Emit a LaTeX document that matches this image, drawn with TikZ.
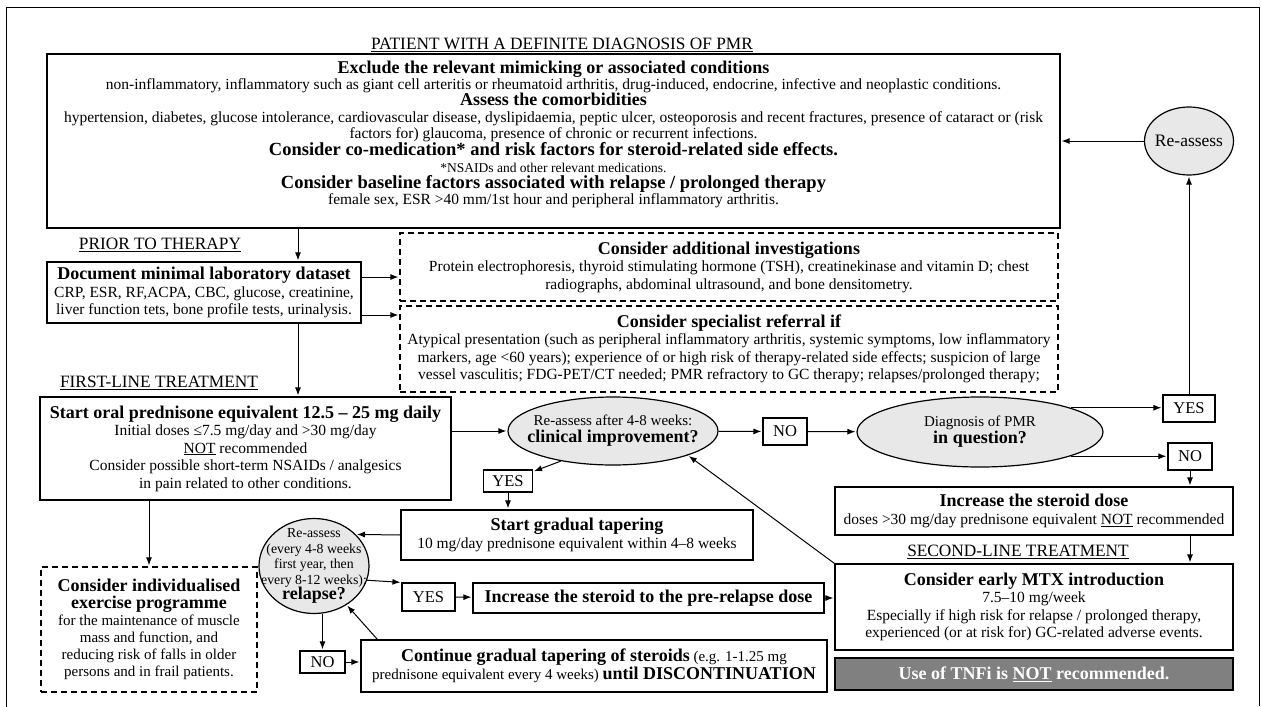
\documentclass[tikz,border=0pt]{standalone}
\usepackage{fontspec}
\setmainfont{Liberation Serif}
\usepackage{tikz}
\usetikzlibrary{arrows.meta,shapes,calc}

\newcommand{\hd}[1]{{\fontsize{18}{19}\selectfont\bfseries #1}}
\newcommand{\hdl}[1]{{\fontsize{18.5}{19}\selectfont\bfseries #1}}

\begin{document}
\begin{tikzpicture}[x=1pt,y=-1pt,shorten >=1pt,>={Latex[length=8pt,width=6pt]},line width=1pt]
	\tikzstyle{box}=[draw,rectangle,line width=1.2pt,align=center,inner sep=2pt,font=\fontsize{15.5}{17.5}\selectfont]
	\tikzstyle{dbox}=[box,dash pattern=on 6pt off 4pt]
	\tikzstyle{oval}=[draw,ellipse,line width=1.2pt,align=center,inner xsep=-30pt,inner ysep=-12pt,fill={rgb:black,1;white,10},font=\fontsize{15}{17}\selectfont]
	\tikzstyle{tag}=[draw,rectangle,line width=1.2pt,inner sep=0pt,minimum height=27pt,font=\fontsize{16.5}{17}\selectfont]
	\tikzstyle{lbl}=[font=\fontsize{17.3}{18}\selectfont]
	
	\useasboundingbox (0,0) rectangle (1262,707);
	\draw[line width=0.8pt] (6,707) -- (6,7) -- (1259,7) -- (1259,707);
	
	\node[lbl](title) at (562,45) {\underline{PATIENT WITH A DEFINITE DIAGNOSIS OF PMR}};
	\node[box,minimum width=1013pt,minimum height=174pt,font=\fontsize{15.5}{16.3}\selectfont](topbox) at (553.5,141) {\hd{Exclude the relevant mimicking or associated conditions}\\
		non-inflammatory, inflammatory such as giant cell arteritis or rheumatoid arthritis, drug-induced, endocrine, infective and neoplastic conditions.\\
		\hd{Assess the comorbidities}\\
		hypertension, diabetes, glucose intolerance, cardiovascular disease, dyslipidaemia, peptic ulcer, osteoporosis and recent fractures, presence of cataract or (risk\\
		factors for) glaucoma, presence of chronic or recurrent infections.\\
		\hdl{Consider co-medication* and risk factors for steroid-related side effects.}\\
		{\fontsize{13.5}{14}\selectfont *NSAIDs and other relevant medications.}\\
		\hdl{Consider baseline factors associated with relapse / prolonged therapy}\\
		female sex, ESR >40 mm/1st hour and peripheral inflammatory arthritis.\\ \mbox{}};
	\node[oval,minimum width=89pt,minimum height=68pt,font=\fontsize{17.5}{18}\selectfont](reassess) at (1189,141) {Re-assess};
	
	\node[lbl](prior) at (160,245) {\underline{PRIOR TO THERAPY}};
	\node[box,minimum width=314pt,minimum height=61pt](docbox) at (204,292.5) {\hd{Document minimal laboratory dataset}\\
		CRP, ESR, RF,ACPA, CBC, glucose, creatinine,\\
		liver function tets, bone profile tests, urinalysis.};
	\node[dbox,minimum width=658pt,minimum height=68pt](invbox) at (729,267) {\hd{Consider additional investigations}\\
		Protein electrophoresis, thyroid stimulating hormone (TSH), creatinekinase and vitamin D; chest\\
		radiographs, abdominal ultrasound, and bone densitometry.};
	\node[dbox,minimum width=658pt,minimum height=86pt](refbox) at (729,349) {\hd{Consider specialist referral if}\\
		Atypical presentation (such as peripheral inflammatory arthritis, systemic symptoms, low inflammatory\\
		markers, age <60 years); experience of or high risk of therapy-related side effects; suspicion of large\\
		vessel vasculitis; FDG-PET/CT needed; PMR refractory to GC therapy; relapses/prolonged therapy;};
	
	\node[lbl](first) at (159,383) {\underline{FIRST-LINE TREATMENT}};
	\node[box,minimum width=411pt,minimum height=103pt](startbox) at (245.5,448.5) {\hd{Start oral prednisone equivalent 12.5 -- 25 mg daily}\\
		Initial doses ≤7.5 mg/day and >30 mg/day\\
		\underline{NOT} recommended\\
		Consider possible short-term NSAIDs / analgesics\\
		in pain related to other conditions.};
	\node[oval,minimum width=210pt,minimum height=68pt](improve) at (613,431) {Re-assess after 4-8 weeks:\\\hd{clinical improvement?}};
	\node[tag,minimum width=44pt](no1) at (785,431.5) {NO};
	\node[oval,minimum width=246pt,minimum height=70pt](question) at (980,432) {Diagnosis of PMR\\\hd{in question?}};
	\node[tag,minimum width=52pt](yes1) at (1189,408.5) {YES};
	\node[tag,minimum width=44pt](no2) at (1190,456.5) {NO};
	
	\node[box,minimum width=398pt,minimum height=48pt](incbox) at (1034,511) {\hd{Increase the steroid dose}\\
		doses >30 mg/day prednisone equivalent \underline{NOT} recommended};
	\node[lbl](second) at (1018,552) {\underline{SECOND-LINE TREATMENT}};
	\node[box,minimum width=398pt,minimum height=86pt](mtxbox) at (1034,607) {\hd{Consider early MTX introduction}\\
		7.5--10 mg/week\\
		Especially if high risk for relapse / prolonged therapy,\\
		experienced (or at risk for) GC-related adverse events.};
	\node[box,minimum width=398pt,minimum height=32pt,fill={rgb:black,1;white,1},text=white](tnfbox) at (1034,674) {\hd{Use of TNFi is \underline{NOT} recommended.}};
	
	\node[tag,minimum width=49pt,minimum height=22pt](yes0) at (508,481) {YES};
	\node[box,minimum width=352pt,minimum height=50pt](taperbox) at (577,535) {\hd{Start gradual tapering}\\
		10 mg/day prednisone equivalent within 4--8 weeks};
	\node[oval,minimum width=110pt,minimum height=95pt,font=\fontsize{13.8}{15.5}\selectfont](relapse) at (314,566) {Re-assess\\(every 4-8 weeks\\first year, then\\every 8-12 weeks):\\\hd{relapse?}};
	\node[tag,minimum width=53pt,minimum height=28pt](yes2) at (428.5,597) {YES};
	\node[box,minimum width=351pt,minimum height=30pt](prebox) at (648.5,598) {\hd{Increase the steroid to the pre-relapse dose}};
	\node[tag,minimum width=45pt,minimum height=22pt](no3) at (322.5,662) {NO};
	\node[box,minimum width=466pt,minimum height=52pt,font=\fontsize{15}{18}\selectfont](contbox) at (594,666) {\hd{Continue gradual tapering of steroids} (e.g. 1-1.25 mg\\
		prednisone equivalent every 4 weeks) \hd{until DISCONTINUATION}};
	\node[dbox,minimum width=216pt,minimum height=125pt,font=\fontsize{15}{17}\selectfont](exbox) at (149,629.5) {\hd{Consider individualised}\\
		\hd{exercise programme}\\
		for the maintenance of muscle\\
		mass and function, and\\
		reducing risk of falls in older\\
		persons and in frail patients.};
	\coordinate (spine) at (298,0);
	
	\path[->] (topbox.south -| spine) edge (docbox.north -| spine);
	\path[->] (docbox.south -| spine) edge (startbox.north -| spine);
	\path[->] ([yshift=15.5pt]docbox.east) edge ([yshift=15.5pt]docbox.east -| invbox.west);
	\path[->] ([yshift=-22.5pt]docbox.east) edge ([yshift=-22.5pt]docbox.east -| refbox.west);
	\path[->] (improve.west -| startbox.east) edge (improve.west);
	\path[->] (improve) edge (no1);
	\path[->] (no1) edge (question);
	\path[->] (question.15) edge (question.15 -| yes1.west);
	\path[->] (question.-15) edge (question.-15 -| no2.west);
	\path[->] (yes1) edge (reassess);
	\path[->] (reassess) edge (topbox);
	\path[->] (no2.south) edge (no2.south |- incbox.north);
	\path[->] (incbox.south -| no2) edge (mtxbox.north -| no2);
	\path[->] (mtxbox.north west) edge (improve.-18);
	\path[->] (improve.-150) edge (yes0);
	\path[->] (yes0) edge (yes0 |- taperbox.north);
	\path[->] (taperbox.west) edge (relapse.37);
	\path[->] (relapse.-15) edge (yes2.north west);
	\path[->] (yes2) edge (prebox);
	\path[->] (prebox.east) edge (prebox.east -| mtxbox.west);
	\path[->] (relapse.south -| no3.north) edge (no3.north);
	\path[->] (no3) edge (no3 -| contbox.west);
	\path[->] ([xshift=17pt]contbox.north west) edge (relapse.-50);
	\path[->] (startbox.south -| exbox.north) edge (exbox.north);
\end{tikzpicture}
\end{document}
